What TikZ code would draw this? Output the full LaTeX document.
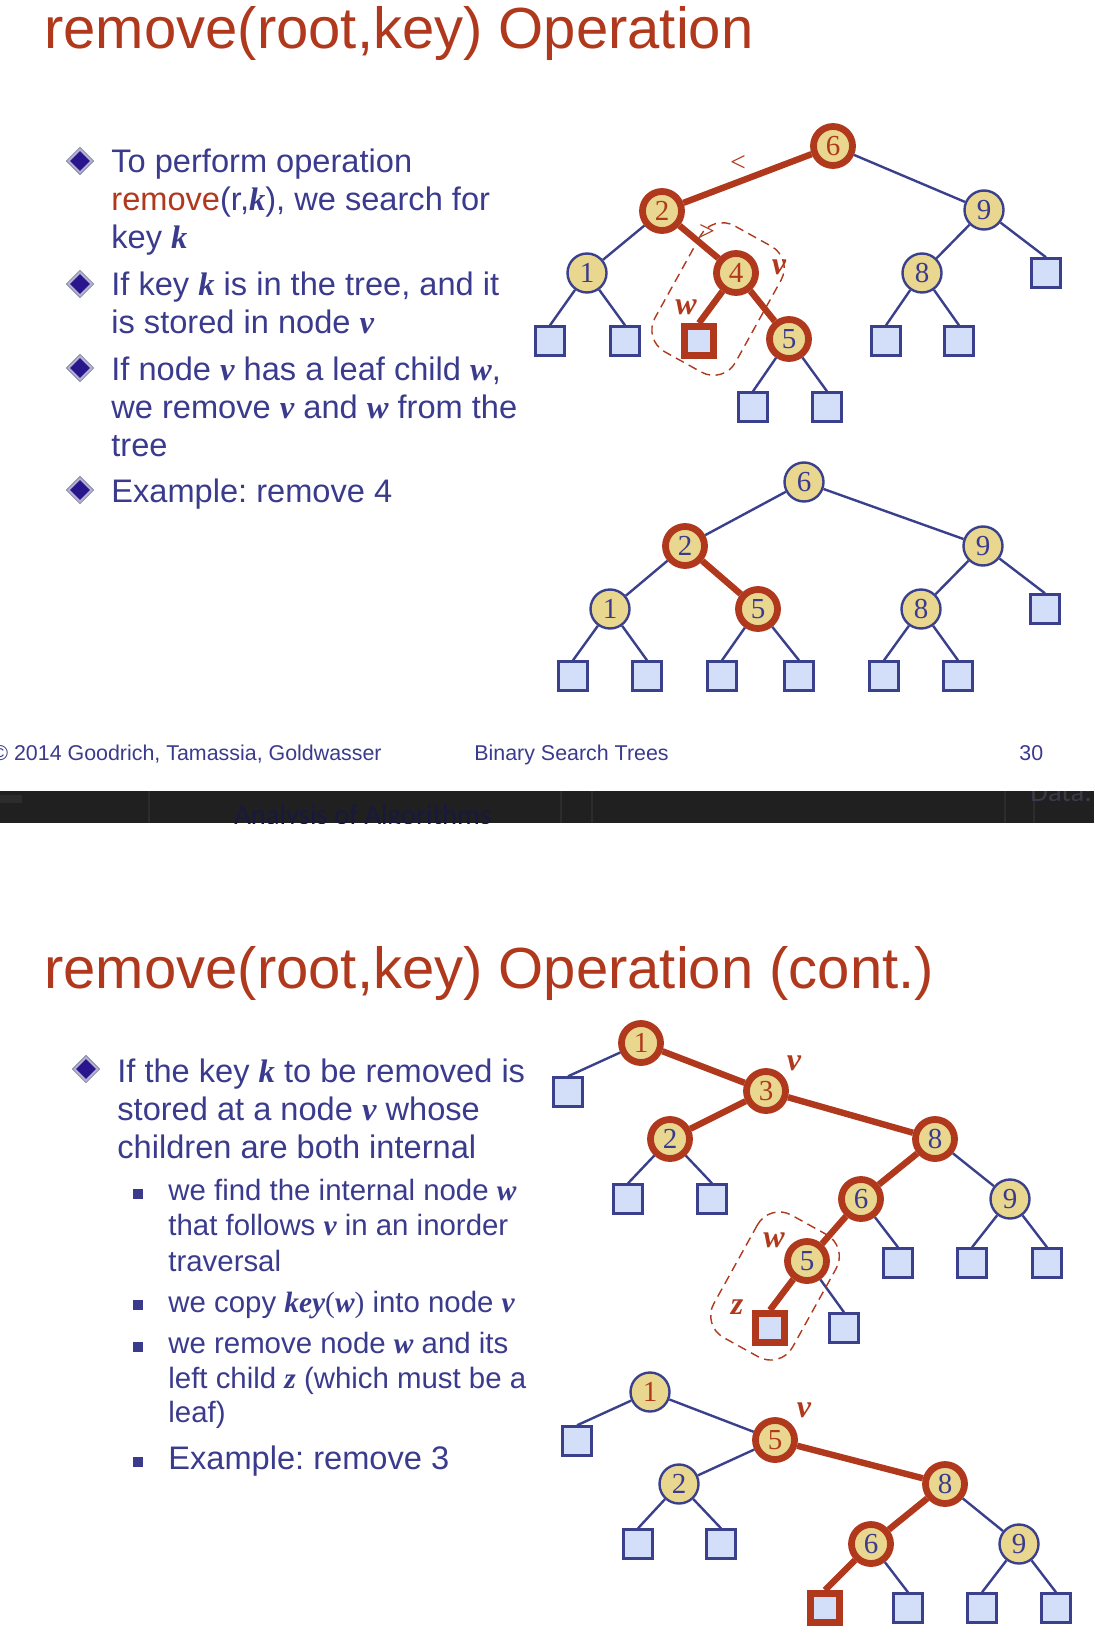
\documentclass[tikz,border=0pt]{standalone}
\usepackage{fontspec}
\setmainfont{Liberation Sans}
\newfontfamily\serffam{Liberation Serif}
\newfontfamily\carlfam{Carlito}
\usetikzlibrary{shapes.geometric,calc}
\frenchspacing
\definecolor{navyc}{RGB}{59,59,142}
\definecolor{edgec}{RGB}{58,64,140}
\definecolor{redc}{RGB}{176,56,28}
\definecolor{ylwc}{RGB}{233,214,143}
\definecolor{lbluec}{RGB}{211,222,248}
\definecolor{dindc}{RGB}{42,22,140}
\definecolor{lavc}{RGB}{178,178,210}
\definecolor{grayb}{RGB}{120,120,150}
\definecolor{bandc}{RGB}{32,32,32}
\definecolor{bandl}{RGB}{44,44,44}
\definecolor{bandt}{RGB}{24,24,64}
\definecolor{bandt2}{RGB}{58,58,72}
\newcommand{\bv}[1]{{\serffam\bfseries\itshape #1}}
\newcommand{\mainf}{\fontsize{16.3pt}{19pt}\selectfont\frenchspacing}
\newcommand{\subf}{\fontsize{14.7pt}{17.5pt}\selectfont\frenchspacing}
\newcommand{\titlef}{\fontsize{29pt}{34pt}\selectfont}
\newcommand{\footf}{\fontsize{10.7pt}{13pt}\selectfont}
\newcommand{\numf}{\serffam\fontsize{14.5pt}{16pt}\selectfont}
\newcommand{\labf}{\serffam\bfseries\itshape\fontsize{16pt}{18pt}\selectfont}
\newcommand{\ltf}{\serffam\fontsize{14pt}{16pt}\selectfont}
\begin{document}
\begin{tikzpicture}[x=0.5pt,y=-0.5pt,
  inode/.style={circle, draw=edgec, line width=1.2pt, fill=ylwc, minimum size=19.5pt, inner sep=0pt, font=\numf, text=navyc},
  rnode/.style={inode, draw=redc, line width=3.4pt},
  leaf/.style={rectangle, draw=edgec, line width=1.2pt, fill=lbluec, minimum size=14.5pt, inner sep=0pt},
  rleaf/.style={leaf, draw=redc, line width=3.4pt},
  bedge/.style={draw=edgec, line width=1.2pt},
  redge/.style={draw=redc, line width=3.2pt},
  txt/.style={anchor=base west, inner sep=0pt, text=navyc, font=\mainf},
  subtxt/.style={anchor=base west, inner sep=0pt, text=navyc, font=\subf},
  titletxt/.style={anchor=base west, inner sep=0pt, text=redc, font=\titlef},
  foot/.style={anchor=base west, inner sep=0pt, text=navyc, font=\footf},
  dbullet/.style={diamond, minimum size=12pt, inner sep=0pt, fill=dindc, draw=lavc, line width=1pt, preaction={draw=grayb, line width=1.8pt}},
  sqbullet/.style={rectangle, minimum size=4.7pt, inner sep=0pt, fill=navyc},
  labv/.style={inner sep=0pt, text=redc, font=\labf},
  labs/.style={inner sep=0pt, text=redc, font=\ltf},
  dbox/.style={draw=redc, dash pattern=on 4.5pt off 2.8pt, line width=0.7pt, rounded corners=12.5pt, inner sep=0pt},
]
\useasboundingbox (0,0) rectangle (1094,1642);
\fill[white] (0,0) rectangle (1094,1642);

% ================= top slide =================
\node[titletxt] (title1) at (44,49) {remove(root,key) Operation};

\node[dbullet] (b1) at (80,161) {};
\node[txt] (l1) at (111,173) {To perform operation};
\node[txt] (l2) at (111,211) {\textcolor{redc}{remove}(r,\bv{k}), we search for};
\node[txt] (l3) at (111,249) {key \bv{k}};
\node[dbullet] (b2) at (80,284) {};
\node[txt] (l4) at (111,296) {If key \bv{k} is in the tree, and it};
\node[txt] (l5) at (111,334) {is stored in node \bv{v}};
\node[dbullet] (b3) at (80,368) {};
\node[txt] (l6) at (111,380) {If node \bv{v} has a leaf child \bv{w},};
\node[txt] (l7) at (111,418) {we remove \bv{v} and \bv{w} from the};
\node[txt] (l8) at (111,456) {tree};
\node[dbullet] (b4) at (80,490) {};
\node[txt] (l9) at (111,502) {Example: remove 4};

% tree 1
\node[rnode, text=redc] (a6) at (833,146) {6};
\node[rnode, text=redc] (a2) at (662,211) {2};
\node[inode] (a9) at (984,210) {9};
\node[inode] (a1) at (587,273) {1};
\node[rnode, text=redc] (a4) at (736,273) {4};
\node[inode] (a8) at (922,273) {8};
\node[leaf] (a9r) at (1046,273) {};
\node[leaf] (a1l) at (550,341) {};
\node[leaf] (a1r) at (625,341) {};
\node[rleaf] (aw) at (699,341) {};
\node[rnode] (a5) at (789,339) {5};
\node[leaf] (a8l) at (886,341) {};
\node[leaf] (a8r) at (959,341) {};
\node[leaf] (a5l) at (753,407) {};
\node[leaf] (a5r) at (827,407) {};
\draw[redge] (a6) -- (a2);
\draw[bedge] (a6) -- (a9);
\draw[bedge] (a2) -- (a1);
\draw[redge] (a2) -- (a4);
\draw[bedge] (a9) -- (a8);
\draw[bedge] (a9) -- (a9r.north);
\draw[bedge] (a1) -- (a1l.north);
\draw[bedge] (a1) -- (a1r.north);
\draw[redge] (a4) -- (aw.north);
\draw[redge] (a4) -- (a5);
\draw[bedge] (a8) -- (a8l.north);
\draw[bedge] (a8) -- (a8r.north);
\draw[bedge] (a5) -- (a5l.north);
\draw[bedge] (a5) -- (a5r.north);
\node[labs] (lt) at (738,163) {<};
\node[labs] (gt) at (707,232) {>};
\node[labv] (av) at (779,267) {v};
\node[labv] (awl) at (686,307) {w};
\node[dbox, minimum width=72pt, minimum height=46pt, rotate=61] (box1) at (718,299) {};

% tree 2
\node[inode] (b6) at (804,482) {6};
\node[rnode] (b2n) at (685,546) {2};
\node[inode] (b9) at (983,546) {9};
\node[inode] (b1n) at (610,609) {1};
\node[rnode] (b5) at (758,609) {5};
\node[inode] (b8) at (921,609) {8};
\node[leaf] (b9r) at (1045,609) {};
\node[leaf] (b1l) at (573,676) {};
\node[leaf] (b1r) at (647,676) {};
\node[leaf] (b5l) at (722,676) {};
\node[leaf] (b5r) at (799,676) {};
\node[leaf] (b8l) at (884,676) {};
\node[leaf] (b8r) at (958,676) {};
\draw[bedge] (b6) -- (b2n);
\draw[bedge] (b6) -- (b9);
\draw[bedge] (b2n) -- (b1n);
\draw[redge] (b2n) -- (b5);
\draw[bedge] (b9) -- (b8);
\draw[bedge] (b9) -- (b9r.north);
\draw[bedge] (b1n) -- (b1l.north);
\draw[bedge] (b1n) -- (b1r.north);
\draw[bedge] (b5) -- (b5l.north);
\draw[bedge] (b5) -- (b5r.north);
\draw[bedge] (b8) -- (b8l.north);
\draw[bedge] (b8) -- (b8r.north);

% footer
\node[foot] (f1) at (-8,760) {© 2014 Goodrich, Tamassia, Goldwasser};
\node[foot] (f2) at (474,760) {Binary Search Trees};
\node[foot] (f3) at (1019,760) {30};

% ================= dark band =================
\fill[bandc] (0,791) rectangle (1094,823);
\begin{scope}
\clip (0,791) rectangle (1094,823);
\fill[bandl] (0,795) rectangle (22,803);
\foreach \xx in {149,561,592,1005,1034} {\draw[bandl, line width=0.6pt] (\xx,791) -- (\xx,823);}
\node[anchor=base west, inner sep=0pt, text=bandt, font=\carlfam\fontsize{14.3pt}{16pt}\selectfont] (band1) at (234,824) {Analysis of Algorithms};
\node[anchor=base west, inner sep=0pt, text=bandt2, font=\carlfam\fontsize{14.3pt}{16pt}\selectfont] (band2) at (1030,801) {Data: Search};
\end{scope}

% ================= bottom slide =================
\node[titletxt] (title2) at (44,988) {remove(root,key) Operation (cont.)};

\node[dbullet] (c1) at (86,1069) {};
\node[txt] (m1) at (117,1082) {If the key \bv{k} to be removed is};
\node[txt] (m2) at (117,1120) {stored at a node \bv{v} whose};
\node[txt] (m3) at (117,1158) {children are both internal};
\node[sqbullet] (s1) at (138,1194) {};
\node[subtxt] (m4) at (168,1200) {we find the internal node \bv{w}};
\node[subtxt] (m5) at (168,1235) {that follows \bv{v} in an inorder};
\node[subtxt] (m6) at (168,1271) {traversal};
\node[sqbullet] (s2) at (138,1305) {};
\node[subtxt] (m7) at (168,1312) {we copy \bv{key}{\serffam(}\bv{w}{\serffam)} into node \bv{v}};
\node[sqbullet] (s3) at (138,1347) {};
\node[subtxt] (m8) at (168,1353) {we remove node \bv{w} and its};
\node[subtxt] (m9) at (168,1388) {left child \bv{z} (which must be a};
\node[subtxt] (m10) at (168,1422) {leaf)};
\node[sqbullet, minimum size=5.4pt] (s4) at (138,1462) {};
\node[txt] (m11) at (168,1469) {Example: remove 3};

% tree 3
\node[rnode, text=redc] (c1n) at (641,1043) {1};
\node[leaf] (c1l) at (568,1092) {};
\node[rnode, text=redc] (c3) at (766,1091) {3};
\node[rnode] (c2) at (670,1139) {2};
\node[rnode] (c8) at (935,1139) {8};
\node[leaf] (c2l) at (628,1199) {};
\node[leaf] (c2r) at (712,1199) {};
\node[rnode] (c6) at (861,1199) {6};
\node[inode] (c9) at (1010,1199) {9};
\node[rnode] (c5) at (807,1261) {5};
\node[leaf] (c6r) at (898,1263) {};
\node[leaf] (c9l) at (972,1263) {};
\node[leaf] (c9r) at (1047,1263) {};
\node[rleaf] (cz) at (770,1328) {};
\node[leaf] (c5r) at (844,1328) {};
\draw[bedge] (c1n) -- (c1l.north);
\draw[redge] (c1n) -- (c3);
\draw[redge] (c3) -- (c2);
\draw[redge] (c3) -- (c8);
\draw[bedge] (c2) -- (c2l.north);
\draw[bedge] (c2) -- (c2r.north);
\draw[redge] (c8) -- (c6);
\draw[bedge] (c8) -- (c9);
\draw[redge] (c6) -- (c5);
\draw[bedge] (c6) -- (c6r.north);
\draw[bedge] (c9) -- (c9l.north);
\draw[bedge] (c9) -- (c9r.north);
\draw[redge] (c5) -- (cz.north);
\draw[bedge] (c5) -- (c5r.north);
\node[labv] (cv) at (794,1063) {v};
\node[labv] (cw) at (774,1240) {w};
\node[labv] (czl) at (737,1307) {z};
\node[dbox, minimum width=70pt, minimum height=45pt, rotate=61] (box2) at (775,1286) {};

% tree 4
\node[inode, text=redc] (d1) at (650,1392) {1};
\node[leaf] (d1l) at (577,1441) {};
\node[rnode, text=redc] (d5) at (775,1440) {5};
\node[inode] (d2) at (679,1484) {2};
\node[rnode] (d8) at (945,1484) {8};
\node[leaf] (d2l) at (638,1544) {};
\node[leaf] (d2r) at (721,1544) {};
\node[rnode] (d6) at (871,1544) {6};
\node[inode] (d9) at (1019,1544) {9};
\node[rleaf] (d6l) at (825,1608) {};
\node[leaf] (d6r) at (908,1608) {};
\node[leaf] (d9l) at (982,1608) {};
\node[leaf] (d9r) at (1056,1608) {};
\draw[bedge] (d1) -- (d1l.north);
\draw[bedge] (d1) -- (d5);
\draw[bedge] (d5) -- (d2);
\draw[redge] (d5) -- (d8);
\draw[bedge] (d2) -- (d2l.north);
\draw[bedge] (d2) -- (d2r.north);
\draw[redge] (d8) -- (d6);
\draw[bedge] (d8) -- (d9);
\draw[redge] (d6) -- (d6l.north);
\draw[bedge] (d6) -- (d6r.north);
\draw[bedge] (d9) -- (d9l.north);
\draw[bedge] (d9) -- (d9r.north);
\node[labv] (dv) at (804,1410) {v};
\end{tikzpicture}
\end{document}
